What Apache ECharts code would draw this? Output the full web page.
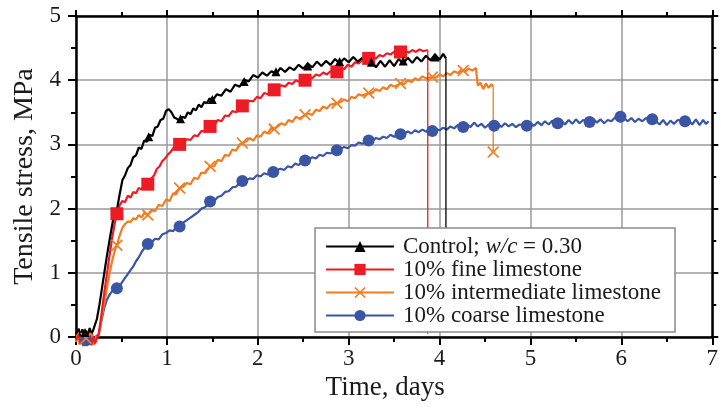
<!DOCTYPE html>
<html>
<head>
<meta charset="utf-8">
<script src="https://cdn.jsdelivr.net/npm/echarts@6/dist/echarts.min.js"></script>
<style>html,body{margin:0;padding:0;background:#fff}#c{width:721px;height:408px}</style>
</head>
<body>
<div id="c"></div>
<script>
// ---- data (time in days, tensile stress in MPa) ----
const seriesNames = ['Control; w/c = 0.30', '10% fine limestone', '10% intermediate limestone', '10% coarse limestone'];
const xTicks = [0, 1, 2, 3, 4, 5, 6, 7];
const yTicks = [0, 1, 2, 3, 4, 5];

const controlData = [[0,0.05],[0.03,0.13],[0.05,0.01],[0.07,0.12],[0.09,0.03],[0.11,0.10],[0.13,0.02],[0.15,0.14],[0.17,0.05],[0.19,0.11],[0.21,0.09],[0.23,0.28],[0.26,0.52],[0.29,0.80],[0.32,1.08],[0.35,1.35],[0.38,1.60],[0.41,1.84],[0.45,1.98],[0.48,2.22],[0.51,2.44],[0.54,2.52],[0.57,2.63],[0.60,2.68],[0.63,2.80],[0.66,2.83],[0.69,2.95],[0.72,2.93],[0.75,3.06],[0.78,3.04],[0.81,3.15],[0.84,3.13],[0.87,3.26],[0.90,3.28],[0.93,3.38],[0.96,3.40],[0.99,3.52],[1.02,3.55],[1.05,3.50],[1.08,3.42],[1.11,3.40],[1.14,3.36],[1.17,3.43],[1.20,3.41],[1.23,3.50],[1.26,3.47],[1.29,3.56],[1.32,3.53],[1.35,3.62],[1.38,3.58],[1.41,3.66],[1.44,3.64],[1.47,3.72],[1.50,3.68],[1.55,3.78],[1.60,3.76],[1.65,3.86],[1.70,3.82],[1.75,3.93],[1.80,3.90],[1.85,4.01],[1.90,3.98],[1.95,4.08],[2.00,4.04],[2.05,4.12],[2.10,4.07],[2.15,4.14],[2.20,4.10],[2.25,4.19],[2.30,4.13],[2.35,4.20],[2.40,4.16],[2.45,4.24],[2.50,4.18],[2.55,4.26],[2.60,4.20],[2.65,4.29],[2.70,4.22],[2.75,4.30],[2.80,4.24],[2.85,4.33],[2.90,4.26],[2.95,4.34],[3.00,4.28],[3.05,4.36],[3.10,4.29],[3.15,4.35],[3.20,4.26],[3.25,4.31],[3.30,4.20],[3.35,4.30],[3.40,4.21],[3.45,4.31],[3.50,4.22],[3.55,4.33],[3.60,4.26],[3.65,4.35],[3.70,4.27],[3.75,4.36],[3.80,4.29],[3.85,4.38],[3.90,4.31],[3.95,4.40],[4.00,4.32],[4.04,4.41],[4.07,4.34]];
const controlDrop = [[4.07,4.34],[4.07,1.0]];
const controlMarkers = [[0.10,0.07],[0.80,3.12],[1.15,3.40],[1.50,3.70],[1.85,3.98],[2.20,4.13],[2.55,4.22],[2.90,4.29],[3.25,4.28],[3.60,4.30],[3.95,4.36]];

const fineData = [[0,-0.05],[0.03,0.04],[0.05,-0.10],[0.07,0.02],[0.09,-0.12],[0.11,0.03],[0.13,-0.08],[0.15,0.05],[0.17,-0.13],[0.19,0.01],[0.21,-0.10],[0.23,-0.02],[0.25,0.05],[0.28,0.35],[0.31,0.68],[0.34,0.98],[0.37,1.28],[0.40,1.56],[0.43,1.80],[0.45,1.92],[0.48,2.05],[0.51,2.12],[0.54,2.10],[0.57,2.20],[0.60,2.17],[0.63,2.26],[0.66,2.24],[0.69,2.32],[0.72,2.30],[0.75,2.36],[0.79,2.38],[0.83,2.47],[0.86,2.52],[0.89,2.62],[0.92,2.66],[0.95,2.74],[0.98,2.78],[1.01,2.84],[1.04,2.88],[1.07,2.94],[1.10,2.97],[1.14,3.00],[1.18,3.02],[1.22,3.08],[1.26,3.07],[1.30,3.14],[1.34,3.13],[1.38,3.21],[1.42,3.20],[1.475,3.28],[1.52,3.30],[1.56,3.38],[1.60,3.36],[1.64,3.45],[1.68,3.44],[1.72,3.52],[1.76,3.50],[1.80,3.58],[1.83,3.60],[1.87,3.63],[1.91,3.68],[1.95,3.67],[1.99,3.74],[2.03,3.72],[2.07,3.80],[2.11,3.78],[2.15,3.85],[2.18,3.85],[2.22,3.88],[2.26,3.92],[2.30,3.90],[2.34,3.96],[2.38,3.94],[2.42,4.00],[2.46,3.97],[2.52,4.00],[2.56,4.05],[2.60,4.03],[2.64,4.09],[2.68,4.07],[2.72,4.12],[2.76,4.09],[2.80,4.14],[2.87,4.13],[2.91,4.19],[2.95,4.17],[2.99,4.24],[3.03,4.21],[3.07,4.28],[3.11,4.26],[3.15,4.32],[3.22,4.34],[3.26,4.36],[3.30,4.34],[3.34,4.39],[3.38,4.37],[3.42,4.42],[3.46,4.40],[3.50,4.44],[3.57,4.44],[3.62,4.46],[3.66,4.43],[3.70,4.47],[3.74,4.44],[3.78,4.48],[3.82,4.45],[3.87,4.47]];
const fineDrop = [[3.87,4.47],[3.87,0.05]];
const fineMarkers = [[0.45,1.92],[0.79,2.38],[1.14,3.00],[1.475,3.28],[1.83,3.60],[2.18,3.85],[2.52,4.00],[2.87,4.13],[3.22,4.34],[3.57,4.44]];

const interData = [[0,-0.08],[0.02,0.06],[0.04,-0.12],[0.06,0.04],[0.08,-0.06],[0.10,0.08],[0.12,-0.14],[0.14,0.02],[0.16,-0.10],[0.18,0.05],[0.20,-0.12],[0.22,0.00],[0.25,0.02],[0.28,0.28],[0.31,0.52],[0.34,0.76],[0.37,1.00],[0.40,1.20],[0.43,1.36],[0.45,1.43],[0.48,1.58],[0.51,1.70],[0.54,1.76],[0.57,1.80],[0.60,1.79],[0.63,1.85],[0.66,1.83],[0.69,1.90],[0.72,1.86],[0.75,1.93],[0.79,1.90],[0.83,1.98],[0.87,1.96],[0.91,2.06],[0.95,2.04],[0.99,2.14],[1.03,2.12],[1.07,2.24],[1.10,2.22],[1.14,2.32],[1.18,2.34],[1.22,2.40],[1.26,2.38],[1.30,2.48],[1.34,2.46],[1.38,2.56],[1.42,2.55],[1.475,2.66],[1.52,2.66],[1.56,2.76],[1.60,2.74],[1.64,2.84],[1.68,2.82],[1.72,2.92],[1.76,2.90],[1.80,3.00],[1.83,3.02],[1.87,3.04],[1.91,3.10],[1.95,3.06],[1.99,3.14],[2.03,3.12],[2.07,3.20],[2.11,3.17],[2.15,3.26],[2.18,3.24],[2.22,3.28],[2.26,3.33],[2.30,3.30],[2.34,3.38],[2.38,3.35],[2.42,3.43],[2.46,3.40],[2.52,3.46],[2.56,3.48],[2.60,3.46],[2.64,3.54],[2.68,3.52],[2.72,3.59],[2.76,3.56],[2.80,3.62],[2.87,3.64],[2.91,3.66],[2.95,3.70],[2.99,3.67],[3.03,3.74],[3.07,3.72],[3.11,3.78],[3.15,3.76],[3.22,3.80],[3.26,3.80],[3.30,3.86],[3.34,3.83],[3.38,3.89],[3.42,3.86],[3.46,3.93],[3.50,3.90],[3.57,3.95],[3.61,3.94],[3.65,4.00],[3.69,3.97],[3.73,4.03],[3.77,4.00],[3.81,4.06],[3.85,4.03],[3.92,4.05],[3.96,4.04],[4.00,4.09],[4.04,4.06],[4.08,4.11],[4.12,4.08],[4.16,4.14],[4.20,4.11],[4.24,4.16],[4.28,4.13],[4.32,4.18],[4.36,4.15],[4.40,4.19],[4.42,4.17],[4.42,3.92],[4.45,3.96],[4.48,3.86],[4.51,3.95],[4.54,3.88],[4.57,3.94],[4.59,3.90]];
const interDrop = [[4.59,3.90],[4.59,2.88]];
const interMarkers = [[0.11,-0.02],[0.45,1.43],[0.79,1.90],[1.14,2.32],[1.475,2.66],[1.83,3.02],[2.18,3.24],[2.52,3.46],[2.87,3.64],[3.22,3.80],[3.57,3.95],[3.92,4.05],[4.26,4.15],[4.59,2.88]];

const coarseData = [[0,-0.06],[0.02,0.03],[0.04,-0.10],[0.06,0.02],[0.08,-0.14],[0.10,0.00],[0.12,-0.08],[0.14,0.04],[0.16,-0.12],[0.18,-0.02],[0.20,-0.10],[0.22,0.01],[0.25,0.04],[0.28,0.25],[0.31,0.45],[0.34,0.58],[0.37,0.66],[0.40,0.72],[0.45,0.76],[0.48,0.80],[0.51,0.86],[0.54,0.92],[0.57,0.98],[0.60,1.04],[0.63,1.10],[0.66,1.18],[0.69,1.24],[0.72,1.32],[0.75,1.38],[0.79,1.45],[0.83,1.47],[0.87,1.53],[0.91,1.52],[0.95,1.60],[0.99,1.62],[1.03,1.66],[1.07,1.65],[1.10,1.71],[1.14,1.72],[1.18,1.78],[1.22,1.82],[1.26,1.86],[1.30,1.90],[1.34,1.94],[1.38,2.00],[1.42,2.02],[1.475,2.11],[1.52,2.12],[1.56,2.18],[1.60,2.20],[1.64,2.26],[1.68,2.27],[1.72,2.33],[1.76,2.34],[1.80,2.40],[1.83,2.43],[1.87,2.44],[1.91,2.47],[1.95,2.46],[1.99,2.52],[2.03,2.50],[2.07,2.55],[2.11,2.53],[2.17,2.57],[2.21,2.60],[2.25,2.62],[2.29,2.60],[2.33,2.66],[2.37,2.64],[2.41,2.70],[2.45,2.68],[2.52,2.75],[2.56,2.76],[2.60,2.80],[2.64,2.78],[2.68,2.84],[2.72,2.82],[2.76,2.87],[2.80,2.86],[2.87,2.91],[2.91,2.93],[2.95,2.96],[2.99,2.94],[3.03,2.99],[3.07,2.98],[3.11,3.03],[3.15,3.01],[3.22,3.06],[3.26,3.06],[3.30,3.10],[3.34,3.08],[3.38,3.12],[3.42,3.10],[3.46,3.15],[3.50,3.12],[3.57,3.16],[3.61,3.17],[3.65,3.20],[3.69,3.17],[3.73,3.22],[3.77,3.19],[3.81,3.23],[3.85,3.20],[3.92,3.21],[3.96,3.24],[4.00,3.22],[4.04,3.26],[4.08,3.23],[4.12,3.28],[4.16,3.25],[4.20,3.30],[4.26,3.27],[4.30,3.31],[4.34,3.27],[4.38,3.34],[4.42,3.28],[4.46,3.32],[4.50,3.26],[4.54,3.31],[4.60,3.29],[4.64,3.33],[4.68,3.27],[4.72,3.33],[4.76,3.28],[4.80,3.32],[4.84,3.27],[4.88,3.31],[4.96,3.29],[5.00,3.33],[5.04,3.29],[5.08,3.35],[5.12,3.30],[5.16,3.36],[5.20,3.31],[5.24,3.37],[5.30,3.33],[5.34,3.37],[5.38,3.31],[5.42,3.38],[5.46,3.32],[5.50,3.39],[5.54,3.33],[5.58,3.38],[5.65,3.35],[5.69,3.40],[5.73,3.34],[5.77,3.39],[5.81,3.33],[5.85,3.38],[5.89,3.36],[5.93,3.42],[5.99,3.43],[6.03,3.41],[6.07,3.36],[6.11,3.41],[6.15,3.35],[6.19,3.40],[6.23,3.36],[6.27,3.41],[6.34,3.39],[6.38,3.36],[6.42,3.31],[6.46,3.38],[6.50,3.30],[6.54,3.37],[6.58,3.32],[6.62,3.38],[6.70,3.36],[6.74,3.38],[6.78,3.31],[6.82,3.39],[6.86,3.30],[6.90,3.38],[6.93,3.32],[6.96,3.36]];
const coarseMarkers = [[0.11,-0.05],[0.45,0.76],[0.79,1.45],[1.14,1.72],[1.475,2.11],[1.83,2.43],[2.17,2.57],[2.52,2.75],[2.87,2.91],[3.22,3.06],[3.57,3.16],[3.92,3.21],[4.26,3.27],[4.60,3.29],[4.96,3.29],[5.30,3.33],[5.65,3.35],[5.99,3.43],[6.34,3.39],[6.70,3.36]];

// ---- styling ----
const FONT = "'Liberation Serif', 'Times New Roman', serif";
const COLORS = ['#000000', '#ed1c24', '#f47b20', '#3b55a5'];
const SYMBOLS = ['triangle', 'rect', 'path://M1,0L5,4L9,0L10,1L6,5L10,9L9,10L5,6L1,10L0,9L4,5L0,1Z', 'circle'];
const SIZES = [9, 13, 12, 12];
const datasets = [controlData, fineData, interData, coarseData];
const drops = [controlDrop, fineDrop, interDrop, null];
const markerSets = [controlMarkers, fineMarkers, interMarkers, coarseMarkers];

const chart = echarts.init(document.getElementById('c'), null, { renderer: 'canvas' });

const axisLineStyle = { color: '#000', width: 2.5 };
const tickStyle = { color: '#000', width: 2 };

const lineOrder = [3, 2, 1, 0];
const series = [];
lineOrder.forEach(i => {
  series.push({
    name: seriesNames[i],
    type: 'line',
    data: datasets[i],
    symbol: SYMBOLS[i],
    symbolSize: SIZES[i],
    showSymbol: false,
    clip: false,
    lineStyle: { color: COLORS[i], width: 2.2 },
    itemStyle: { color: COLORS[i] },
    emphasis: { disabled: true },
    silent: true,
    z: 2
  });
  if (drops[i]) {
    series.push({
      type: 'line',
      data: drops[i],
      showSymbol: false,
      symbol: 'none',
      clip: false,
      lineStyle: { color: COLORS[i], width: 1.3 },
      emphasis: { disabled: true },
      silent: true,
      z: 2
    });
  }
});
lineOrder.forEach(i => {
  series.push({
    type: 'scatter',
    data: markerSets[i],
    symbol: SYMBOLS[i],
    symbolSize: SIZES[i],
    clip: false,
    itemStyle: { color: COLORS[i], opacity: 1 },
    silent: true,
    z: 3
  });
});

const option = {
  animation: false,
  backgroundColor: '#ffffff',
  grid: { left: 76, right: 7, top: 16, bottom: 71, containLabel: false },
  legend: {
    data: seriesNames,
    orient: 'vertical',
    left: 315,
    top: 228,
    itemWidth: 68,
    itemHeight: 14,
    itemGap: 0,
    padding: [7, 14, 5, 10],
    backgroundColor: '#ffffff',
    borderColor: '#8a8a8a',
    borderWidth: 1.5,
    selectedMode: false,
    z: 10,
    textStyle: {
      fontFamily: FONT, fontSize: 23, color: '#1a1a1a', lineHeight: 22, padding: [0, 0, 0, 4],
      rich: {
        n: { fontFamily: FONT, fontSize: 23, color: '#1a1a1a', lineHeight: 22 },
        i: { fontFamily: FONT, fontSize: 23, color: '#1a1a1a', fontStyle: 'italic', lineHeight: 22 }
      }
    },
    formatter: function (name) {
      if (name === seriesNames[0]) return '{n|Control; }{i|w/c}{n| = 0.30}';
      return name;
    }
  },
  xAxis: [{
    type: 'value', min: 0, max: 7, interval: 1, position: 'bottom',
    name: 'Time, days', nameLocation: 'middle', nameGap: 36,
    nameTextStyle: { fontFamily: FONT, fontSize: 27, color: '#1a1a1a', padding: [0, 18, 0, 0] },
    axisLine: { show: true, onZero: false, lineStyle: axisLineStyle },
    axisTick: { show: true, inside: false, length: 8, lineStyle: tickStyle },
    minorTick: { show: true, splitNumber: 2, length: 5, lineStyle: tickStyle },
    axisLabel: { fontFamily: FONT, fontSize: 23, color: '#1a1a1a', margin: 10,
      customValues: xTicks },
    splitLine: { show: true, lineStyle: { color: '#9a9a9a', width: 1.5 } }
  }, {
    type: 'value', min: 0, max: 7, interval: 1, position: 'top',
    axisLine: { show: true, onZero: false, lineStyle: axisLineStyle },
    axisTick: { show: true, inside: false, length: 6, lineStyle: tickStyle },
    minorTick: { show: true, splitNumber: 2, length: 4, lineStyle: tickStyle },
    axisLabel: { show: false },
    splitLine: { show: false }
  }],
  yAxis: [{
    type: 'value', min: 0, max: 5, interval: 1, position: 'left',
    name: 'Tensile stress, MPa', nameLocation: 'middle', nameGap: 35, nameRotate: 90,
    nameTextStyle: { fontFamily: FONT, fontSize: 28, color: '#1a1a1a' },
    axisLine: { show: true, onZero: false, lineStyle: axisLineStyle },
    axisTick: { show: true, inside: false, length: 8, lineStyle: tickStyle },
    minorTick: { show: true, splitNumber: 2, length: 5, lineStyle: tickStyle },
    axisLabel: { fontFamily: FONT, fontSize: 23, color: '#1a1a1a', margin: 15,
      customValues: yTicks },
    splitLine: { show: true, lineStyle: { color: '#9a9a9a', width: 1.5 } }
  }, {
    type: 'value', min: 0, max: 5, interval: 1, position: 'right',
    axisLine: { show: true, onZero: false, lineStyle: axisLineStyle },
    axisTick: { show: true, inside: false, length: 6, lineStyle: tickStyle },
    minorTick: { show: true, splitNumber: 2, length: 4, lineStyle: tickStyle },
    axisLabel: { show: false },
    splitLine: { show: false }
  }],
  series: series
};
chart.setOption(option);
</script>
</body>
</html>
